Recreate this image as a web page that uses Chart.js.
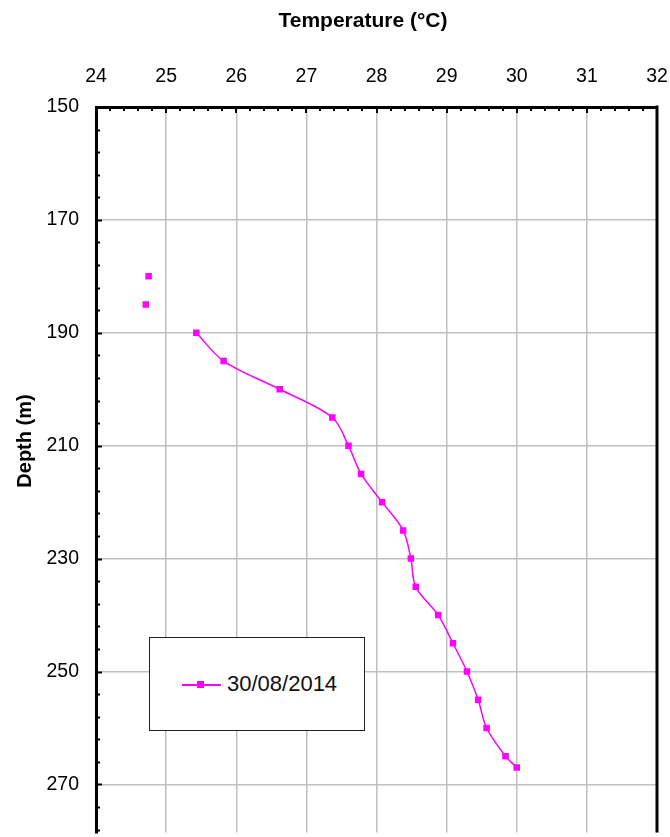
<!DOCTYPE html>
<html>
<head>
<meta charset="utf-8">
<script src="https://cdn.jsdelivr.net/npm/chart.js@4/dist/chart.umd.min.js"></script>
<style>
    html, body { margin: 0; padding: 0; background: #fff; overflow: hidden; }
    #wrap { position: relative; width: 670px; height: 837px; }
    #legend {
        position: absolute; left: 149px; top: 637px; width: 214px; height: 92px;
        border: 1.5px solid #222; background: #fff;
        font-family: "Liberation Sans", Arial, sans-serif; font-size: 22px; color: #111;
    }
    #legend .line { position: absolute; left: 32px; top: 46px; width: 39px; height: 2px; background: #ff00ff; }
    #legend .mark { position: absolute; left: 47px; top: 43px; width: 7px; height: 7px; background: #ff00ff; }
    #legend .txt { position: absolute; left: 77px; top: 33px; line-height: 26px; }
</style>
</head>
<body>
<div id="wrap">
    <canvas id="profile" width="670" height="837"></canvas>
    <div id="legend"><div class="line"></div><div class="mark"></div><div class="txt">30/08/2014</div></div>
</div>
<script>
// readings of the 30/08/2014 log
const depthM = [180, 185, 190, 195, 200, 205, 210, 215, 220, 225, 230, 235, 240, 245, 250, 255, 260, 265, 267];
const tempC  = [24.75, 24.71, 25.43, 25.82, 26.62, 27.37, 27.60, 27.78, 28.08, 28.38, 28.49, 28.56, 28.88, 29.09, 29.29, 29.45, 29.57, 29.84, 30.00];
const gapAfter = [180, 185]; // isolated readings, not joined to the curve

const tempTicks  = [24, 25, 26, 27, 28, 29, 30, 31, 32];
const depthTicks = [150, 170, 190, 210, 230, 250, 270];

const seriesName = '30/08/2014';
const xTitle = 'Temperature (°C)';
const yTitle = 'Depth (m)';

const FONT = '"Liberation Sans", Arial, sans-serif';

const points = [];
depthM.forEach((d, i) => {
    points.push({ x: tempC[i], y: d });
    if (gapAfter.includes(d)) points.push({ x: null, y: null });
});

// inward minor/major ticks, right frame line, axis titles
const frame = {
    id: 'frame',
    afterDraw(chart) {
        const { ctx, chartArea: a, scales: { x, y } } = chart;
        ctx.save();
        ctx.strokeStyle = '#000';
        ctx.lineWidth = 2;
        ctx.beginPath();
        for (let k = 0; 150 + 4 * k <= y.max; k++) {
            const py = Math.round(y.getPixelForValue(150 + 4 * k)) + 0.5;
            const len = k % 5 === 0 ? 6 : 4;
            ctx.moveTo(a.left, py);
            ctx.lineTo(a.left + len, py);
        }
        for (let k = 1; k < 40; k++) {
            const px = Math.round(x.getPixelForValue(24 + 0.2 * k));
            const len = k % 5 === 0 ? 6 : 4;
            ctx.moveTo(px, a.top);
            ctx.lineTo(px, a.top + len);
        }
        ctx.stroke();

        ctx.lineWidth = 3;
        ctx.beginPath();
        ctx.moveTo(a.right, a.top - 1.5);
        ctx.lineTo(a.right, a.bottom);
        ctx.stroke();

        ctx.fillStyle = '#000';
        ctx.textAlign = 'center';
        ctx.textBaseline = 'middle';
        ctx.font = 'bold 21px ' + FONT;
        ctx.fillText(xTitle, 363, 21);
        ctx.translate(25, 441);
        ctx.rotate(-Math.PI / 2);
        ctx.font = 'bold 20px ' + FONT;
        ctx.fillText(yTitle, 0, 0);
        ctx.restore();
    }
};

new Chart(document.getElementById('profile'), {
    type: 'scatter',
    data: {
        datasets: [{
            label: seriesName,
            data: points,
            showLine: true,
            spanGaps: false,
            tension: 0.33,
            borderColor: '#ff00ff',
            backgroundColor: '#ff00ff',
            borderWidth: 1.5,
            pointStyle: 'rect',
            pointRadius: 4.6,
            pointBorderWidth: 0
        }]
    },
    options: {
        responsive: false,
        animation: false,
        layout: { padding: { top: 0, left: 0, right: 13, bottom: 0 } },
        plugins: { legend: { display: false }, tooltip: { enabled: false } },
        scales: {
            x: {
                type: 'linear',
                position: 'top',
                min: 24,
                max: 32,
                afterBuildTicks: s => { s.ticks = tempTicks.map(v => ({ value: v })); },
                afterFit: s => { s.height = 107; s.paddingLeft = 0; s.paddingRight = 0; },
                ticks: { padding: 19, color: '#000', font: { family: FONT, size: 19.5 } },
                grid: { color: '#c0c0c0', lineWidth: 1.5, drawTicks: false },
                border: { display: true, color: '#000', width: 3 }
            },
            y: {
                type: 'linear',
                reverse: true,
                min: 150,
                max: 278.5,
                afterBuildTicks: s => { s.ticks = depthTicks.map(v => ({ value: v })); },
                afterFit: s => { s.width = 96; s.paddingTop = 0; s.paddingBottom = 0; },
                ticks: { padding: 17, color: '#000', font: { family: FONT, size: 19.5 } },
                grid: { color: '#c0c0c0', lineWidth: 1.5, drawTicks: false },
                border: { display: true, color: '#000', width: 3 }
            }
        }
    },
    plugins: [frame]
});
</script>
</body>
</html>
